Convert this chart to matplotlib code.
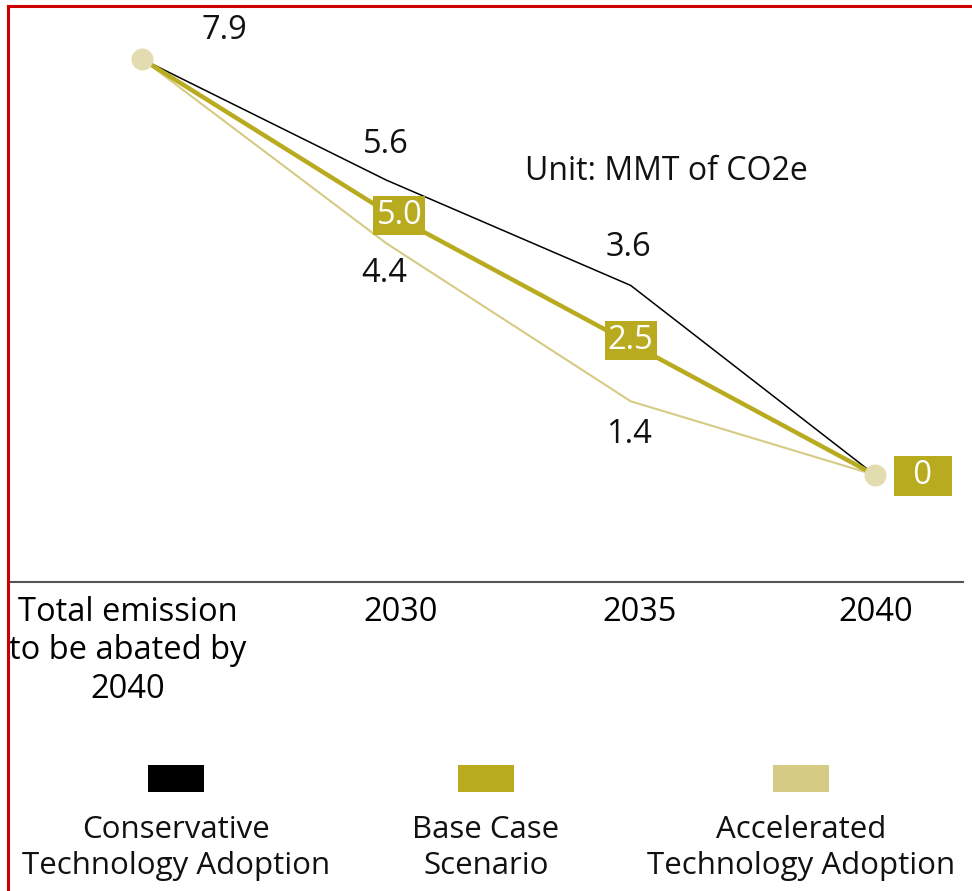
import matplotlib
matplotlib.use("Agg", force=True)

import matplotlib.pyplot as plt
from matplotlib.patches import Rectangle
from matplotlib.lines import Line2D
from matplotlib.transforms import Affine2D

plt.rcParams["font.family"] = ["Open Sans", "DejaVu Sans"]

categories = ["Total emission\nto be abated by\n2040", "2030", "2035", "2040"]
conservative = [7.9, 5.6, 3.6, 0]
base_case = [7.9, 5.0, 2.5, 0]
accelerated = [7.9, 4.4, 1.4, 0]
series_names = ["Conservative\nTechnology Adoption", "Base Case\nScenario",
                "Accelerated\nTechnology Adoption"]

black = "#000000"
gold = "#B8AB1F"
light = "#D6CB84"
dot = "#E3DCB0"

W, H = 972, 891
fig = plt.figure(figsize=(W / 100, H / 100), dpi=100)

# axes box in pixels (top-left origin): x 10..963, y 10..582
ax = fig.add_axes([10 / W, (H - 582) / H, 953 / W, 572 / H])
xs = list(range(len(categories)))

ax.plot(xs, accelerated, color=light, lw=1.5, zorder=2)
ax.plot(xs, conservative, color=black, lw=1.1, zorder=3)
ax.plot(xs, base_case, color=gold, lw=3.2, zorder=4)
ax.scatter([xs[0], xs[-1]], [base_case[0], base_case[-1]], s=250, color=dot,
           zorder=5, linewidths=0)

ax.set_xlim(-0.540, 3.360)
ax.set_ylim(-2.032, 8.83)

for s in ["top", "right", "left"]:
    ax.spines[s].set_visible(False)
ax.spines["bottom"].set_color("#555555")
ax.spines["bottom"].set_linewidth(1.5)
ax.set_yticks([])
ax.set_xticks(xs, categories, fontsize=23.5, linespacing=1.22)
ax.tick_params(axis="x", length=0, pad=10)
for lbl, dx in zip(ax.get_xticklabels(), [-14, 14, 9, 1]):
    lbl.set_transform(lbl.get_transform() + Affine2D().translate(dx, 0))

# plain value labels
def plain(txt, x, y, dx, dy):
    ax.annotate(txt, (x, y), xytext=(dx, dy), textcoords="offset pixels",
                ha="center", va="center", fontsize=23.5, color="#111111")

plain(f"{conservative[0]:.1f}", xs[0], conservative[0], 82, 28)
plain(f"{conservative[1]:.1f}", xs[1], conservative[1], 0, 36)
plain(f"{conservative[2]:.1f}", xs[2], conservative[2], -2, 38)
plain(f"{accelerated[1]:.1f}", xs[1], accelerated[1], -2, -30)
plain(f"{accelerated[2]:.1f}", xs[2], accelerated[2], -2, -33)

# boxed base case labels
def boxed(txt, x, y, dx, dy):
    ax.annotate(txt, (x, y), xytext=(dx, dy), textcoords="offset pixels",
                ha="center", va="center", fontsize=23.5, color="white", zorder=6,
                bbox=dict(boxstyle="square,pad=0.1", fc=gold, ec="none"))

boxed(f"{base_case[1]:.1f}", xs[1], base_case[1], 13, -4)
boxed(f"{base_case[2]:.1f}", xs[2], base_case[2], 0, 3)
boxed(f"\u2002{base_case[3]:.0f}\u2002", xs[3], base_case[3], 48, -1)

fig.text(525 / W, 1 - 172 / H, "Unit: MMT of CO2e", ha="left", va="center",
         fontsize=23, color="#111111")

# legend: square above two-line label
for name, col, cx in zip(series_names, [black, gold, light], [176, 486, 801]):
    fig.add_artist(Rectangle(((cx - 28) / W, 1 - 792 / H), 56 / W, 27 / H,
                             transform=fig.transFigure, color=col, lw=0))
    fig.text(cx / W, 1 - 848 / H, name, ha="center", va="center",
             fontsize=22.5, linespacing=1.3, color="#111111")

# red frame (top and left)
fig.add_artist(Line2D([8 / W, 1], [1 - 6 / H, 1 - 6 / H], color="#CC0000",
                      lw=2.2, transform=fig.transFigure))
fig.add_artist(Line2D([8 / W, 8 / W], [0, 1 - 6 / H], color="#CC0000",
                      lw=2.2, transform=fig.transFigure))

fig.savefig("out.png", dpi=100)
plt.close(fig)
